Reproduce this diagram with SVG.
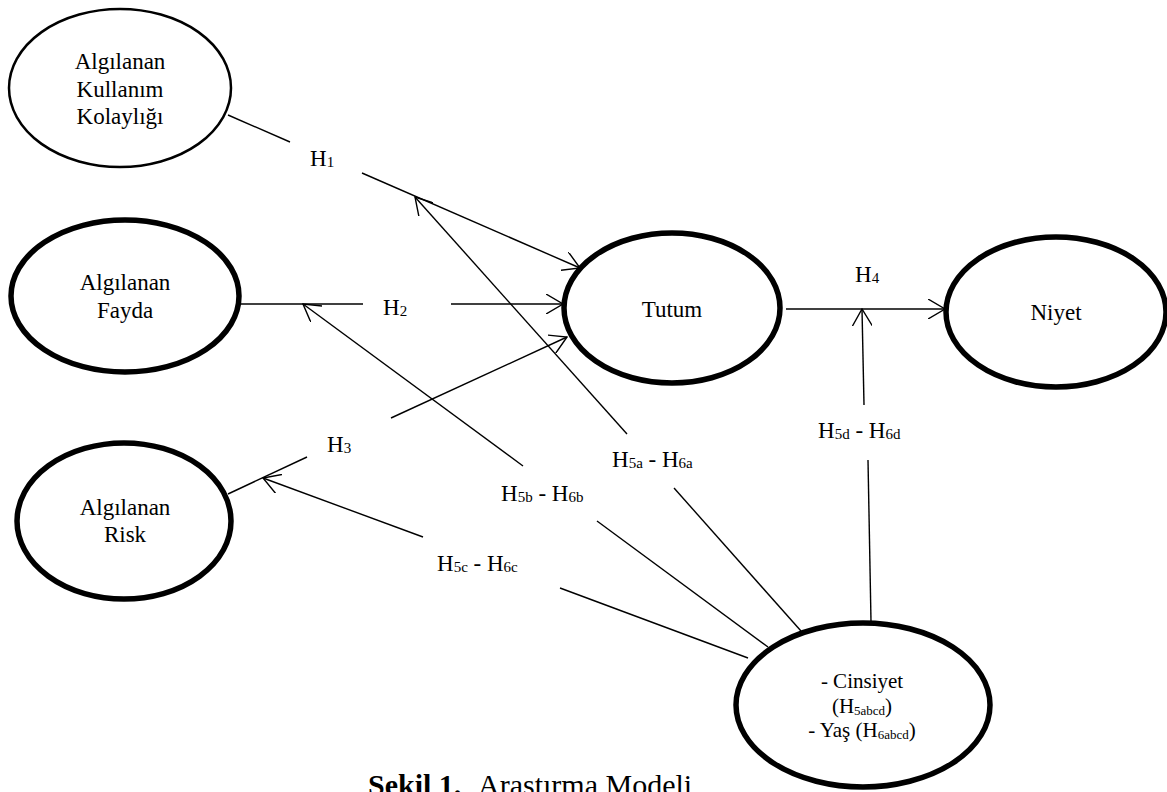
<svg xmlns="http://www.w3.org/2000/svg" width="1167" height="792" viewBox="0 0 1167 792">
<style>
text{font-family:"Liberation Serif","Times New Roman",serif;fill:#000}
.n{font-size:23px;text-anchor:middle}
.m{font-size:21px;text-anchor:middle}
.l{font-size:23px}
.s{font-size:15px}
.s2{font-size:13px}
.e{fill:#fff;stroke:#000;stroke-width:5.5}
.e1{fill:#fff;stroke:#000;stroke-width:2.5}
.c line{stroke:#000;stroke-width:1.4;fill:none}
</style>
<defs>
<marker id="ar" viewBox="0 0 18 20" refX="17" refY="10" markerWidth="18" markerHeight="20" markerUnits="userSpaceOnUse" orient="auto">
<path d="M0,0 L17,10 L0,20" fill="none" stroke="#000" stroke-width="1.4"/>
</marker>
</defs>
<rect width="1167" height="792" fill="#fff"/>
<g id="n-kolaylik"><ellipse class="e1" cx="120" cy="88" rx="111" ry="79"/>
<text class="n" x="120" y="69">Algılanan</text><text class="n" x="120" y="97">Kullanım</text><text class="n" x="120" y="124">Kolaylığı</text></g>
<g id="n-fayda"><ellipse class="e" cx="125" cy="296" rx="114" ry="76"/>
<text class="n" x="125" y="290">Algılanan</text><text class="n" x="125" y="318">Fayda</text></g>
<g id="n-risk"><ellipse class="e" cx="124" cy="521" rx="107" ry="78"/>
<text class="n" x="125" y="515">Algılanan</text><text class="n" x="125" y="542">Risk</text></g>
<g id="n-tutum"><ellipse class="e" cx="672" cy="308" rx="108" ry="75"/>
<text class="n" x="672" y="317">Tutum</text></g>
<g id="n-niyet"><ellipse class="e" cx="1056" cy="312" rx="110" ry="75"/>
<text class="n" x="1056" y="320">Niyet</text></g>
<g id="n-moderator"><ellipse class="e" cx="863" cy="705" rx="127" ry="82"/>
<text class="m" x="862" y="688">- Cinsiyet</text>
<text class="m" x="862" y="713">(H<tspan class="s2" dy="2">5abcd</tspan><tspan dy="-2">)</tspan></text>
<text class="m" x="862" y="737">- Yaş (H<tspan class="s2" dy="2">6abcd</tspan><tspan dy="-2">)</tspan></text></g>
<g id="connectors" class="c">
<line x1="228" y1="115" x2="290" y2="142"/>
<line x1="362" y1="173" x2="580" y2="268" marker-end="url(#ar)"/>
<line x1="241" y1="304" x2="363" y2="304"/>
<line x1="451" y1="304" x2="563" y2="304" marker-end="url(#ar)"/>
<line x1="228" y1="494" x2="307" y2="457"/>
<line x1="391" y1="418" x2="567" y2="337" marker-end="url(#ar)"/>
<line x1="786" y1="309" x2="945" y2="309" marker-end="url(#ar)"/>
<line x1="801" y1="631" x2="674" y2="488"/>
<line x1="627" y1="434" x2="415" y2="197" marker-end="url(#ar)"/>
<line x1="768" y1="647" x2="597" y2="521"/>
<line x1="523" y1="466" x2="303" y2="304" marker-end="url(#ar)"/>
<line x1="748" y1="658" x2="560" y2="588"/>
<line x1="423" y1="537" x2="263" y2="478" marker-end="url(#ar)"/>
<line x1="871" y1="621" x2="868" y2="460"/>
<line x1="864" y1="405" x2="862" y2="309" marker-end="url(#ar)"/>
</g>
<g id="labels">
<text class="l" x="310" y="166">H<tspan class="s" dy="1">1</tspan></text>
<text class="l" x="383" y="315">H<tspan class="s" dy="1">2</tspan></text>
<text class="l" x="327" y="452">H<tspan class="s" dy="1">3</tspan></text>
<text class="l" x="855" y="282">H<tspan class="s" dy="1">4</tspan></text>
<text class="l" x="612" y="467">H<tspan class="s" dy="1">5a</tspan><tspan dy="-1"> - H</tspan><tspan class="s" dy="1">6a</tspan></text>
<text class="l" x="501" y="501">H<tspan class="s" dy="1">5b</tspan><tspan dy="-1"> - H</tspan><tspan class="s" dy="1">6b</tspan></text>
<text class="l" x="437" y="571">H<tspan class="s" dy="1">5c</tspan><tspan dy="-1"> - H</tspan><tspan class="s" dy="1">6c</tspan></text>
<text class="l" x="818" y="438">H<tspan class="s" dy="1">5d</tspan><tspan dy="-1"> - H</tspan><tspan class="s" dy="1">6d</tspan></text>
</g>
<text x="368" y="795" font-size="30"><tspan font-weight="bold">Şekil 1.</tspan><tspan x="478">Araştırma Modeli</tspan></text>
</svg>
